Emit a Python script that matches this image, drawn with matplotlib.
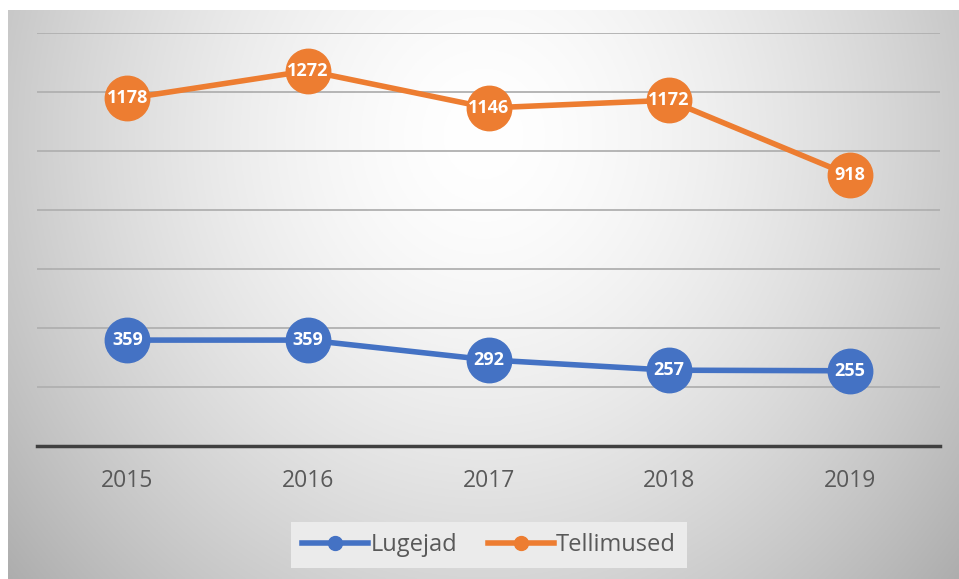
import numpy as np
import matplotlib
matplotlib.use("Agg")
import matplotlib.pyplot as plt
from matplotlib.lines import Line2D

# data
years = ["2015", "2016", "2017", "2018", "2019"]
lugejad = [359, 359, 292, 257, 255]
tellimused = [1178, 1272, 1146, 1172, 918]

blue = "#4472C4"
orange = "#ED7D31"
text_gray = "#595959"

plt.rcParams['font.family'] = ['Open Sans', 'DejaVu Sans']

fig = plt.figure(figsize=(9.59, 5.79), dpi=100, facecolor="white")

# gradient background (radial, light in the middle-top, gray at the edges)
bg = fig.add_axes([8 / 959, 0, 951 / 959, 569 / 579])
h, w = 300, 500
yy, xx = np.mgrid[0:h, 0:w]
gx = (xx / (w - 1) - 0.5) / 0.55
gy = (yy / (h - 1) - 0.22) / 1.0
r = np.sqrt(gx ** 2 + gy ** 2)
shade = 1.0 - 0.24 * np.clip(r, 0, 1.3) ** 1.6
bg.imshow(np.dstack([shade, shade, shade]), aspect="auto", extent=[0, 1, 0, 1], origin="upper")
bg.axis("off")

ax = fig.add_axes([37 / 959, 1 - 446 / 579, 903 / 959, (446 - 33) / 579])
ax.patch.set_alpha(0)
x = np.arange(len(years))

ax.set_ylim(0, 1400)
ax.set_xlim(-0.5, len(years) - 0.5)
ax.set_yticks(np.arange(0, 1401, 200))
ax.yaxis.grid(True, color="#b0b0b0", linewidth=1.3)
ax.set_axisbelow(True)
ax.tick_params(axis="y", left=False, labelleft=False)
ax.tick_params(axis="x", bottom=False, labelsize=16.5, labelcolor=text_gray, pad=13)
ax.set_xticks(x)
ax.set_xticklabels(years)
for s in ["left", "right", "top"]:
    ax.spines[s].set_visible(False)
ax.spines["bottom"].set_color("#404040")
ax.spines["bottom"].set_linewidth(2.5)

ax.plot(x, lugejad, color=blue, linewidth=4, marker="o", markersize=32, zorder=3)
ax.plot(x, tellimused, color=orange, linewidth=4, marker="o", markersize=32, zorder=3)

for xi, v in zip(x, lugejad):
    ax.annotate(str(v), (xi, v), ha="center", va="center", color="white",
                fontsize=13, fontweight="bold", zorder=4)
for xi, v in zip(x, tellimused):
    ax.annotate(str(v), (xi, v), ha="center", va="center", color="white",
                fontsize=13, fontweight="bold", zorder=4)

handles = [
    Line2D([], [], color=blue, linewidth=4, marker="o", markersize=10),
    Line2D([], [], color=orange, linewidth=4, marker="o", markersize=10),
]
leg = fig.legend(handles, ["Lugejad", "Tellimused"], loc="center",
                 bbox_to_anchor=(489 / 959, 1 - 545 / 579), ncol=2,
                 fontsize=17, frameon=True, fancybox=False, handlelength=2.8,
                 handletextpad=0.1, columnspacing=1.3, borderpad=0.45)
leg.get_frame().set_facecolor("#ebebeb")
leg.get_frame().set_edgecolor("none")
leg.get_frame().set_alpha(1)
for t in leg.get_texts():
    t.set_color(text_gray)

fig.savefig("out.png", dpi=100, facecolor="white")
